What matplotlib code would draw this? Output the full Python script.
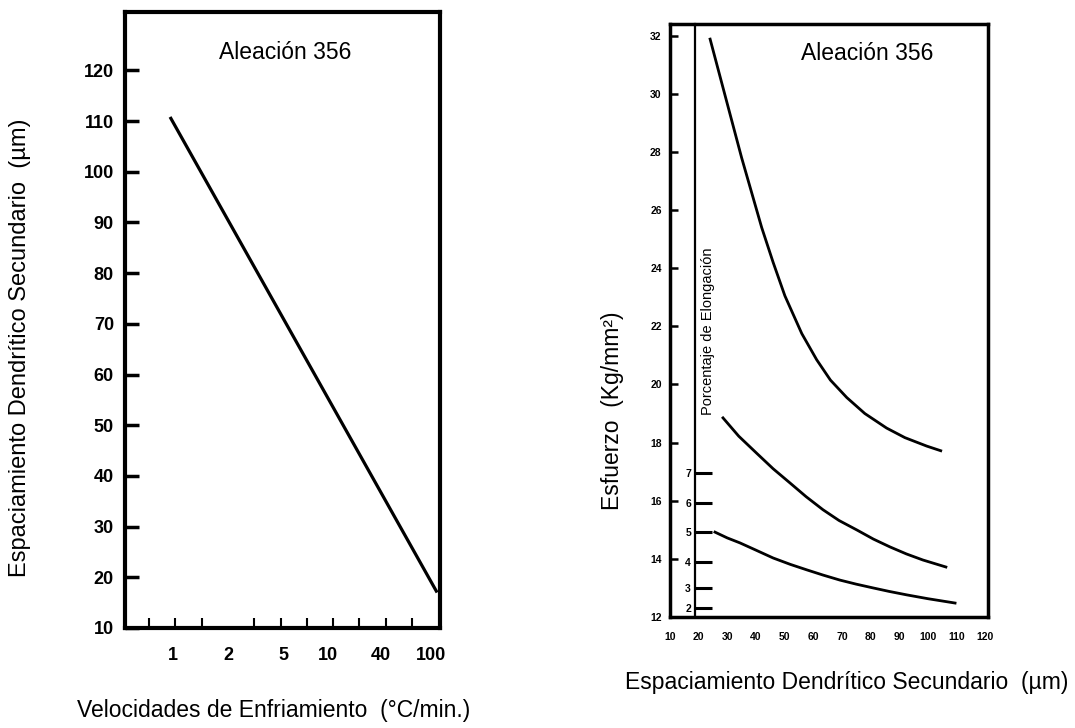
import matplotlib.pyplot as plt
import numpy as np

plt.rcParams['font.family'] = ['Liberation Sans', 'DejaVu Sans']

# left chart: cooling rate (categorical positions) vs dendrite arm spacing
rate_labels = ['1', '2', '5', '10', '40', '100']
rate_label_pos = [1.9, 4.0, 6.1, 7.8, 9.8, 11.7]
rate_tick_pos = [1, 2, 3, 4, 5, 6, 7, 8, 9, 10, 11]
line_x = [1.80, 11.95]
line_y = [110.8, 17.0]
spacing_ticks = [10, 20, 30, 40, 50, 60, 70, 80, 90, 100, 110, 120]

# right chart: stress vs dendrite arm spacing
sdas_labels = [10, 20, 30, 40, 50, 60, 70, 80, 90, 100, 110, 120]
sdas_ticks = [30, 40, 50, 60, 70, 80, 90, 100, 110]
stress_ticks = [12, 14, 16, 18, 20, 22, 24, 26, 28, 30, 32]

upper_x = [24.0, 29.2, 35.0, 42.0, 46.0, 50.1, 56.0, 61.2, 66.0, 71.7, 78.0, 85.6, 92.0, 99.6, 104.5]
upper_y = [31.88, 29.95, 27.8, 25.4, 24.2, 23.05, 21.75, 20.85, 20.15, 19.55, 19.0, 18.5, 18.17, 17.88, 17.72]
middle_x = [28.5, 34.0, 40.4, 46.0, 51.9, 57.5, 63.4, 69.0, 75.3, 81.0, 86.8, 92.5, 98.3, 106.3]
middle_y = [18.85, 18.22, 17.62, 17.1, 16.61, 16.14, 15.69, 15.32, 14.99, 14.68, 14.41, 14.17, 13.96, 13.72]
lower_x = [25.7, 30.0, 34.4, 40.0, 46.0, 52.0, 57.8, 63.5, 69.3, 75.0, 80.9, 86.5, 92.7, 100.0, 109.5]
lower_y = [14.92, 14.72, 14.55, 14.3, 14.03, 13.81, 13.62, 13.44, 13.27, 13.13, 13.00, 12.88, 12.76, 12.63, 12.48]

# elongation scale: where each % value sits on the stress scale
elong_ticks = [2, 3, 4, 5, 6, 7]
elong_at_stress = [12.31, 13.0, 13.89, 14.92, 15.92, 16.95]

s_pts = [0] + elong_at_stress + [60]
e_pts = [elong_ticks[0] - elong_at_stress[0]] + elong_ticks + [elong_ticks[-1] + 60 - elong_at_stress[-1]]


def to_elong(s):
    return np.interp(s, s_pts, e_pts)


def to_stress(e):
    return np.interp(e, e_pts, s_pts)


fig = plt.figure(figsize=(10.75, 7.28), dpi=100)

# ---- left panel
ax1 = fig.add_axes([125 / 1075, 100 / 728, 315 / 1075, 616 / 728])
ax1.plot(line_x, line_y, color='black', lw=2.3, solid_capstyle='butt')
ax1.set_xlim(0.087, 12.06)
ax1.set_ylim(10, 131.5)
ax1.set_xticks(rate_label_pos, labels=rate_labels, fontsize=13, fontweight='bold')
ax1.set_xticks(rate_tick_pos, minor=True)
ax1.set_yticks(spacing_ticks, labels=[str(v) for v in spacing_ticks], fontsize=13, fontweight='bold')
ax1.tick_params(axis='x', which='major', length=0, pad=14)
ax1.tick_params(axis='x', which='minor', direction='in', length=7, width=1.5)
ax1.tick_params(axis='y', direction='in', length=10, width=2.5, pad=8)
for sp in ax1.spines.values():
    sp.set_linewidth(3)
ax1.text(0.508, 0.935, 'Aleación 356', transform=ax1.transAxes, ha='center', va='center', fontsize=16.5)

fig.text(20 / 1075, (728 - 348) / 728, 'Espaciamiento Dendrítico Secundario  (µm)',
         rotation=90, ha='center', va='center', fontsize=17)
fig.text(274 / 1075, 18 / 728, 'Velocidades de Enfriamiento  (°C/min.)',
         ha='center', va='center', fontsize=16.5)

# ---- right panel
ax2 = fig.add_axes([670 / 1075, 111 / 728, 318 / 1075, 593 / 728])
for xs, ys in [(upper_x, upper_y), (middle_x, middle_y), (lower_x, lower_y)]:
    ax2.plot(xs, ys, color='black', lw=2, solid_joinstyle='round')
ax2.set_xlim(10, 121)
ax2.set_ylim(12, 32.4)
ax2.set_xticks(sdas_labels, labels=[str(v) for v in sdas_labels], fontsize=7.5, fontweight='bold')
ax2.set_xticks(sdas_ticks, minor=True)
ax2.set_yticks(stress_ticks, labels=[str(v) for v in stress_ticks], fontsize=7.5, fontweight='bold')
ax2.tick_params(axis='x', which='major', length=0, pad=11)
ax2.tick_params(axis='x', which='minor', direction='in', length=5, width=1.5)
ax2.tick_params(axis='y', direction='in', length=6, width=1.8, pad=6)
for sp in ax2.spines.values():
    sp.set_linewidth(2.5)
ax2.text(0.619, 0.951, 'Aleación 356', transform=ax2.transAxes, ha='center', va='center', fontsize=16.5)

sec = ax2.secondary_yaxis(0.079, functions=(to_elong, to_stress))
sec.set_yticks(elong_ticks, labels=[str(v) for v in elong_ticks], fontsize=7.5, fontweight='bold')
sec.tick_params(direction='in', length=12, width=2.2, pad=3)
sec.spines['left'].set_linewidth(1.6)
ax2.text(0.12, 0.482, 'Porcentaje de Elongación', transform=ax2.transAxes, rotation=90,
         ha='center', va='center', fontsize=10.5)

fig.text(612 / 1075, (728 - 411) / 728, 'Esfuerzo  (Kg/mm²)', rotation=90,
         ha='center', va='center', fontsize=16.5)
fig.text(847 / 1075, (728 - 682) / 728, 'Espaciamiento Dendrítico Secundario  (µm)',
         ha='center', va='center', fontsize=16.5)

fig.savefig('out.png', dpi=100)
